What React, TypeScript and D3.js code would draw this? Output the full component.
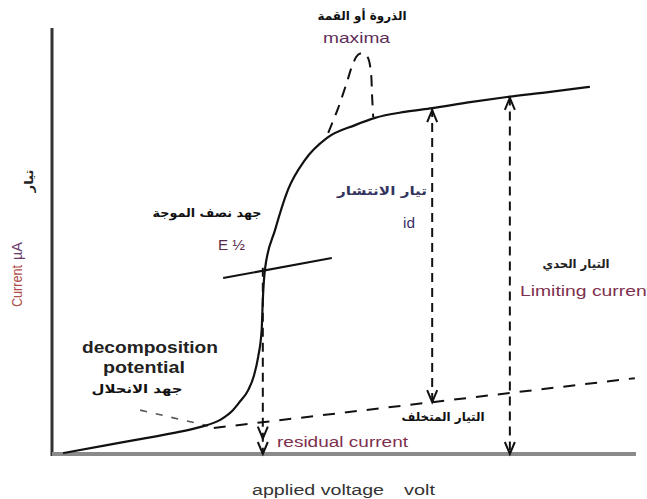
import React from 'react';
import * as d3 from 'd3';

const W = 647;
const H = 499;

// Polarographic wave: applied voltage (% of full scale) against current (% of full scale)
const waveVoltage = [1.9, 9.4, 15.1, 20.7, 25.3, 28.8, 30.7, 32.0, 33.6, 34.6, 35.3, 35.9, 36.1, 36.5, 38.2, 40.4, 43.3, 47.1, 51.9, 55.3, 60.4, 65.1, 71.6, 77.9, 85.3, 92.1];
const waveCurrent = [0.2, 2.1, 3.5, 4.9, 6.3, 8.0, 9.9, 12.0, 15.0, 18.5, 22.8, 29.1, 36.2, 43.7, 52.6, 62.0, 69.0, 74.2, 77.2, 78.9, 80.3, 81.2, 82.6, 83.8, 85.0, 86.2];

// Polarographic maximum rising above the wave
const maximaVoltage = [47.3, 49.0, 50.5, 51.5, 52.4, 53.3, 54.1, 54.6, 54.8, 55.0];
const maximaCurrent = [75.4, 81.2, 87.3, 91.5, 93.7, 94.1, 93.0, 89.7, 84.3, 79.1];

// Residual current baseline and its extrapolation toward the decomposition potential
const residualVoltage = [27.7, 99.8];
const residualCurrent = [6.1, 17.8];
const extrapVoltage = [15.1, 26.7];
const extrapCurrent = [10.3, 6.6];

// Tangent through the half-wave point
const tangentVoltage = [29.3, 47.9];
const tangentCurrent = [41.3, 46.0];

// Vertical markers: voltage, top current, bottom current
const halfWave = { v: 36.1, top: 43.7, bottom: 0 };
const diffusion = { v: 65.1, top: 81.2, bottom: 12.2 };
const limiting = { v: 78.4, top: 83.9, bottom: 0 };

const x = d3.scaleLinear().domain([0, 100]).range([52, 636]);
const y = d3.scaleLinear().domain([0, 100]).range([454, 28]);

const toPts = (vs: number[], cs: number[]) => vs.map((v, i) => [v, cs[i]] as [number, number]);

const waveLine = d3
  .line<[number, number]>()
  .x((d) => x(d[0]))
  .y((d) => y(d[1]))
  .curve(d3.curveMonotoneX);

const smooth = d3
  .line<[number, number]>()
  .x((d) => x(d[0]))
  .y((d) => y(d[1]))
  .curve(d3.curveCatmullRom.alpha(0.5));

const straight = d3
  .line<[number, number]>()
  .x((d) => x(d[0]))
  .y((d) => y(d[1]));

const LAT = '"Liberation Sans", Arial, sans-serif';
const AR = '"DejaVu Sans", "Noto Sans", sans-serif';

function Arrow({ v, c, dir }: { v: number; c: number; dir: 'up' | 'down' }) {
  const px = x(v);
  const py = y(c);
  const s = dir === 'up' ? 1 : -1;
  return (
    <path
      d={`M${px - 5},${py + s * 12}L${px},${py}L${px + 5},${py + s * 12}`}
      fill="none"
      stroke="#111"
      strokeWidth={2}
    />
  );
}

export default function App() {
  const dash = '9 6';
  return (
    <svg
      width={W}
      height={H}
      viewBox={`0 0 ${W} ${H}`}
      style={{ position: 'absolute', left: 0, top: 0, background: '#fff' }}
    >
      <rect width={W} height={H} fill="#fff" />

      {/* axes */}
      <line x1={x(0)} x2={x(0)} y1={y(100)} y2={y(0) + 2} stroke="#333" strokeWidth={3} />
      <line x1={x(0)} x2={x(100)} y1={y(0)} y2={y(0)} stroke="#8a8a8a" strokeWidth={4} />

      {/* residual current line */}
      <path d={straight(toPts(residualVoltage, residualCurrent)) || ''} fill="none" stroke="#111" strokeWidth={2} strokeDasharray="12 10" />
      <path d={straight(toPts(extrapVoltage, extrapCurrent)) || ''} fill="none" stroke="#555" strokeWidth={1.6} strokeDasharray="7 9" />

      {/* half-wave tangent */}
      <path d={straight(toPts(tangentVoltage, tangentCurrent)) || ''} fill="none" stroke="#111" strokeWidth={2} />

      {/* vertical markers */}
      <line x1={x(halfWave.v)} x2={x(halfWave.v)} y1={y(halfWave.top)} y2={y(halfWave.bottom)} stroke="#111" strokeWidth={2} strokeDasharray={dash} />
      <Arrow v={halfWave.v} c={halfWave.bottom} dir="down" />
      <Arrow v={halfWave.v} c={halfWave.bottom + 3.6} dir="down" />

      <line x1={x(diffusion.v)} x2={x(diffusion.v)} y1={y(diffusion.top)} y2={y(diffusion.bottom)} stroke="#111" strokeWidth={2} strokeDasharray={dash} />
      <Arrow v={diffusion.v} c={diffusion.top - 0.5} dir="up" />
      <Arrow v={diffusion.v} c={diffusion.bottom} dir="down" />

      <line x1={x(limiting.v)} x2={x(limiting.v)} y1={y(limiting.top)} y2={y(limiting.bottom)} stroke="#111" strokeWidth={2} strokeDasharray={dash} />
      <Arrow v={limiting.v} c={limiting.top - 0.3} dir="up" />
      <Arrow v={limiting.v} c={limiting.bottom} dir="down" />

      {/* maximum */}
      <path d={smooth(toPts(maximaVoltage, maximaCurrent)) || ''} fill="none" stroke="#111" strokeWidth={2} strokeDasharray="11 8" />

      {/* polarographic wave */}
      <path d={waveLine(toPts(waveVoltage, waveCurrent)) || ''} fill="none" stroke="#111" strokeWidth={2.2} />

      {/* labels */}
      <text x={362} y={20} fontFamily={AR} fontWeight="bold" fontSize={12} textAnchor="middle" direction="rtl" textLength={89} lengthAdjust="spacingAndGlyphs" fill="#111">الذروة أو القمة</text>
      <text x={323} y={43} fontFamily={LAT} fontSize={15} textLength={67} lengthAdjust="spacingAndGlyphs" fill="#5e2c58">maxima</text>

      <text x={207} y={217} fontFamily={AR} fontWeight="bold" fontSize={12} textAnchor="middle" direction="rtl" textLength={109} lengthAdjust="spacingAndGlyphs" fill="#111">جهد نصف الموجة</text>
      <text x={218} y={250} fontFamily={LAT} fontSize={14} textLength={27} lengthAdjust="spacingAndGlyphs" fill="#5a2a4a">E ½</text>

      <text x={382} y={195} fontFamily={AR} fontWeight="bold" fontSize={12} textAnchor="middle" direction="rtl" textLength={90} lengthAdjust="spacingAndGlyphs" fill="#33345e">تيار الانتشار</text>
      <text x={403} y={228} fontFamily={LAT} fontSize={14} textLength={12} lengthAdjust="spacingAndGlyphs" fill="#3a2f6a">id</text>

      <text x={576} y={268} fontFamily={AR} fontWeight="bold" fontSize={12} textAnchor="middle" direction="rtl" textLength={67} lengthAdjust="spacingAndGlyphs" fill="#222">التيار الحدي</text>
      <text x={520} y={296} fontFamily={LAT} fontSize={14} textLength={132} lengthAdjust="spacingAndGlyphs" fill="#7e2f4e">Limiting current</text>

      <text x={82} y={353} fontFamily={LAT} fontWeight="bold" fontSize={17} textLength={136} lengthAdjust="spacingAndGlyphs" fill="#222">decomposition</text>
      <text x={103} y={373} fontFamily={LAT} fontWeight="bold" fontSize={17} textLength={82} lengthAdjust="spacingAndGlyphs" fill="#222">potential</text>
      <text x={137} y={393} fontFamily={AR} fontWeight="bold" fontSize={12} textAnchor="middle" direction="rtl" textLength={91} lengthAdjust="spacingAndGlyphs" fill="#111">جهد الانحلال</text>

      <text x={443} y={421} fontFamily={AR} fontWeight="bold" fontSize={12} textAnchor="middle" direction="rtl" textLength={83} lengthAdjust="spacingAndGlyphs" fill="#111">التيار المتخلف</text>
      <text x={277} y={447} fontFamily={LAT} fontSize={14} textLength={131} lengthAdjust="spacingAndGlyphs" fill="#7e2f4e">residual current</text>

      {/* axis titles */}
      <g transform="translate(22,307) rotate(-90)">
        <text x={0} y={0} fontFamily={LAT} fontSize={14} fill="#b0504a" textLength={42} lengthAdjust="spacingAndGlyphs">Current</text>
        <text x={47} y={0} fontFamily={LAT} fontSize={14} fill="#6a3a6a" textLength={18} lengthAdjust="spacingAndGlyphs">µA</text>
      </g>
      <g transform="translate(33,181) rotate(-90)">
        <text x={0} y={0} fontFamily={AR} fontWeight="bold" fontSize={12} textAnchor="middle" direction="rtl" textLength={23} lengthAdjust="spacingAndGlyphs" fill="#222">تيار</text>
      </g>

      <text x={252} y={495} fontFamily={LAT} fontSize={14} textLength={132} lengthAdjust="spacingAndGlyphs" fill="#333">applied voltage</text>
      <text x={404} y={495} fontFamily={LAT} fontSize={14} textLength={31} lengthAdjust="spacingAndGlyphs" fill="#333">volt</text>
    </svg>
  );
}
